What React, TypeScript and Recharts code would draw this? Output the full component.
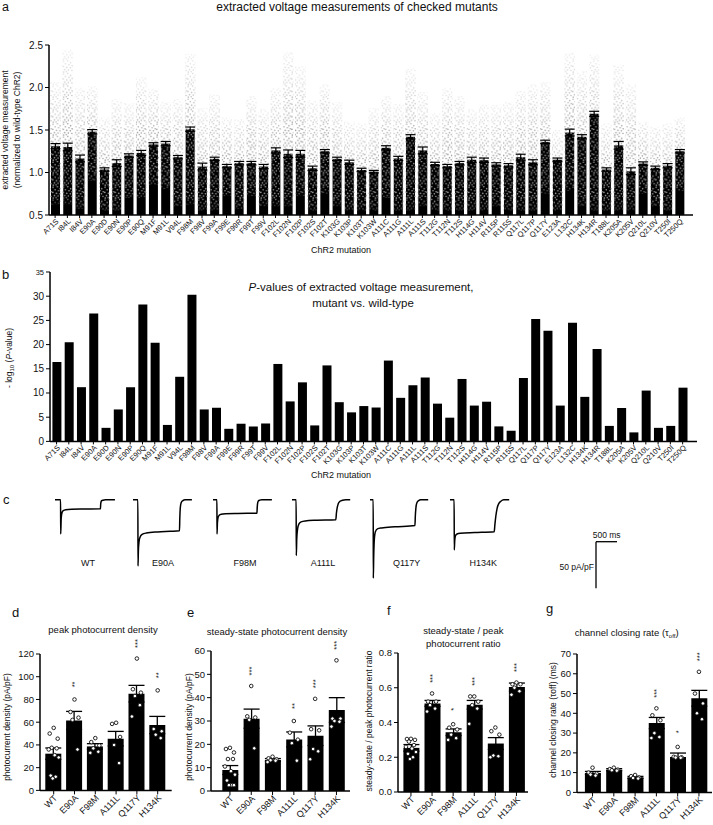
import React from "react";
import {
  ComposedChart,
  LineChart,
  Bar,
  Line,
  Scatter,
  XAxis,
  YAxis,
  ErrorBar,
} from "recharts";

const FONT = '"Liberation Sans", Arial, Helvetica, sans-serif';
const INK = "#111";

// ---------- panels a + b: screened mutants ----------
const MUTANTS = [
  "A71S", "I84L", "I84V", "E90A", "E90D", "E90N", "E90P", "E90Q", "M91F", "M91L",
  "V94L", "F98M", "F98V", "F99A", "F99E", "F99R", "F99T", "F99V", "F102L", "F102N",
  "F102P", "F102S", "F102T", "K103G", "K103P", "K103T", "K103W", "A111C", "A111G", "A111L",
  "A111S", "T112G", "T112N", "T112S", "H114G", "H114V", "R115P", "R115S", "Q117L", "Q117P",
  "Q117Y", "E123A", "L132C", "H134K", "H134R", "T188L", "K205A", "K205V", "Q210L", "Q210V",
  "T250I", "T250Q",
];
// mean normalized voltage (bar height)
const VOLT_MEAN = [
  1.31, 1.3, 1.165, 1.48, 1.035, 1.11, 1.2, 1.23, 1.33, 1.34,
  1.18, 1.51, 1.07, 1.16, 1.075, 1.11, 1.11, 1.07, 1.26, 1.22,
  1.22, 1.05, 1.25, 1.16, 1.12, 1.03, 1.01, 1.29, 1.165, 1.42,
  1.26, 1.1, 1.075, 1.11, 1.15, 1.145, 1.095, 1.085, 1.18, 1.12,
  1.36, 1.15, 1.47, 1.42, 1.69, 1.035, 1.32, 1.015, 1.105, 1.055,
  1.08, 1.25,
];
const VOLT_SEM = [
  0.03, 0.045, 0.04, 0.025, 0.02, 0.04, 0.02, 0.03, 0.02, 0.025,
  0.02, 0.025, 0.04, 0.02, 0.02, 0.02, 0.02, 0.025, 0.03, 0.045,
  0.04, 0.025, 0.02, 0.02, 0.025, 0.02, 0.015, 0.025, 0.025, 0.025,
  0.04, 0.02, 0.02, 0.02, 0.03, 0.025, 0.02, 0.02, 0.035, 0.03,
  0.02, 0.02, 0.04, 0.025, 0.03, 0.02, 0.045, 0.04, 0.02, 0.02,
  0.025, 0.02,
];
// spread of the single-cell measurements (grey dot cloud)
const CLOUD_LO = [
  0.62, 0.62, 0.57, 0.9, 0.55, 0.55, 0.7, 0.7, 0.85, 0.8,
  0.6, 0.62, 0.55, 0.55, 0.72, 0.57, 0.72, 0.6, 0.6, 0.6,
  0.72, 0.55, 0.75, 0.6, 0.55, 0.55, 0.55, 0.7, 0.55, 0.55,
  0.6, 0.55, 0.55, 0.55, 0.55, 0.55, 0.6, 0.55, 0.55, 0.55,
  0.75, 0.55, 0.78, 0.6, 0.55, 0.55, 0.55, 0.55, 0.75, 0.6,
  0.55, 0.78,
];
const CLOUD_HI = [
  2.07, 2.45, 2.0, 2.02, 1.65, 1.87, 1.82, 2.13, 1.99, 1.83,
  1.87, 2.4, 1.76, 1.92, 1.65, 1.63, 1.9, 1.75, 2.0, 2.42,
  2.25, 1.85, 2.04, 1.83, 1.6, 1.58, 1.76, 1.9, 1.81, 2.23,
  1.95, 1.7, 2.0, 1.9, 1.75, 1.8, 1.8, 1.83, 1.96, 2.04,
  2.07, 1.5, 2.41, 2.2, 2.39, 1.58, 2.27, 2.04, 1.6, 1.54,
  1.58, 1.65,
];
const VOLT_TICKS = [0.5, 1.0, 1.5, 2.0, 2.5];

// -log10(P) mutant vs WT
const NEG_LOG_P = [
  16.4, 20.5, 11.2, 26.4, 2.8, 6.6, 11.2, 28.3, 20.4, 3.4,
  13.35, 30.3, 6.6, 6.95, 2.6, 3.65, 3.1, 3.7, 16.0, 8.26,
  12.2, 3.3, 15.7, 8.1, 6.0, 7.3, 7.0, 16.7, 9.0, 11.6,
  13.2, 7.8, 4.9, 12.9, 7.4, 8.2, 3.1, 2.2, 13.1, 25.3,
  22.85, 7.4, 24.5, 9.2, 19.1, 3.2, 6.9, 1.86, 10.5, 2.8,
  3.2, 11.1,
];
const P_TICKS = [0, 5, 10, 15, 20, 25, 30, 35];

// ---------- panel c: example photocurrent traces (ms, pA/pF) ----------
const TRACE_NAMES = ["WT", "E90A", "F98M", "A111L", "Q117Y", "H134K"];
const TRACE_T = [
  [0, 135, 138, 150, 170, 200, 260, 400, 700, 1100, 1105, 1115, 1130, 1160, 1220, 1450],
  [0, 118, 121, 130, 145, 170, 220, 320, 600, 900, 1125, 1132, 1145, 1165, 1200, 1260, 1425],
  [0, 95, 97, 108, 125, 150, 200, 300, 600, 1063, 1070, 1082, 1100, 1130, 1180, 1425],
  [0, 100, 104, 115, 135, 165, 220, 320, 600, 1060, 1075, 1095, 1120, 1160, 1220, 1300, 1408],
  [0, 78, 80, 90, 105, 130, 180, 280, 600, 1087, 1097, 1112, 1135, 1170, 1230, 1408],
  [0, 100, 104, 115, 135, 170, 250, 600, 1070, 1085, 1110, 1140, 1180, 1230, 1300, 1432],
];
const TRACE_V = [
  [0, 0, -36.4, -20, -13.5, -11.5, -10.5, -10, -9.8, -9.6, -5, -2, -0.8, -0.3, 0, 0],
  [0, 0, -70.7, -55, -45, -40, -37, -35.5, -34.3, -33.6, -33, -20, -8, -3, -1, 0, 0],
  [0, 0, -36.4, -24, -18.5, -16.5, -15.3, -14.8, -14.5, -14.3, -8, -3, -1, -0.3, 0, 0],
  [0, 0, -59.6, -42, -31, -26, -23.5, -22.5, -21.8, -21.2, -14, -8, -4, -1.5, -0.5, 0, 0],
  [0, 0, -83.8, -60, -42, -34, -31, -30, -28.8, -27.5, -17, -8, -3, -1, 0, 0],
  [0, 0, -53.5, -43, -38, -36.5, -35.8, -35, -34, -27, -17, -9, -4, -1.5, 0, 0],
];

// ---------- panels d-g: selected mutants ----------
const GROUPS = ["WT", "E90A", "F98M", "A111L", "Q117Y", "H134K"];

const PEAK_MEAN = [32.3, 61.6, 38.7, 45.5, 85.1, 57.5];
const PEAK_SEM = [5.0, 7.9, 2.4, 6.4, 7.3, 7.6];
const PEAK_POINTS = [
  [55, 50, 45.5, 37.5, 37, 36, 31, 29, 13, 12, 10.5],
  [80, 69, 64, 62, 36],
  [46, 42.5, 39.5, 37, 34, 33],
  [59.5, 58.5, 47, 40, 24],
  [116, 89, 86, 83, 75, 65],
  [88, 54, 52, 49, 46],
];
const PEAK_SIG = ["", "**", "", "", "***", "**"];
const PEAK_TICKS = [0, 20, 40, 60, 80, 100, 120];

const STEADY_MEAN = [9.0, 31.0, 13.3, 22.1, 23.7, 34.7];
const STEADY_SEM = [1.9, 4.1, 0.6, 3.2, 4.2, 5.3];
const STEADY_POINTS = [
  [18.5, 18, 16.5, 13.7, 13.7, 10.5, 8.5, 7, 4.5, 2.5, 2.5, 2.5],
  [45, 32, 31.5, 30.5, 18.3],
  [14.7, 14, 13.6, 13.2, 13, 12.4],
  [30, 25, 22, 20.5, 13],
  [39.5, 26.5, 26, 18, 17, 13.6],
  [56, 31, 31, 30, 29.7, 27.6],
];
const STEADY_SIG = ["", "***", "", "**", "***", "***"];
const STEADY_TICKS = [0, 10, 20, 30, 40, 50, 60];

const RATIO_MEAN = [0.254, 0.51, 0.344, 0.502, 0.279, 0.604];
const RATIO_SEM = [0.019, 0.017, 0.019, 0.025, 0.034, 0.023];
const RATIO_POINTS = [
  [0.306, 0.305, 0.3, 0.29, 0.27, 0.26, 0.25, 0.23, 0.22, 0.2, 0.19],
  [0.567, 0.52, 0.52, 0.5, 0.48, 0.463],
  [0.39, 0.37, 0.36, 0.33, 0.31, 0.3],
  [0.55, 0.55, 0.52, 0.5, 0.48, 0.392],
  [0.371, 0.35, 0.33, 0.21, 0.206, 0.2],
  [0.63, 0.62, 0.62, 0.6, 0.58, 0.56],
];
const RATIO_SIG = ["", "***", "*", "***", "", "***"];
const RATIO_TICKS = [0, 0.2, 0.4, 0.6, 0.8];

const TAU_MEAN = [9.8, 11.5, 7.6, 35.1, 17.9, 47.6];
const TAU_SEM = [0.8, 0.5, 0.5, 2.8, 2.0, 4.0];
const TAU_POINTS = [
  [12.5, 10, 9.5, 9, 8.5],
  [12.5, 11.8, 11.5, 11.2, 11],
  [8.8, 8.2, 7.5, 7.3, 7.0],
  [42.5, 39, 36.5, 30, 28, 27.5],
  [23, 18, 17.7, 17.6, 17.5],
  [61, 50, 45, 40, 37],
];
const TAU_SIG = ["", "", "", "***", "*", "***"];
const TAU_TICKS = [0, 10, 20, 30, 40, 50, 60, 70];

// ---------- shared bits ----------
const axisLine = { stroke: "#000", strokeWidth: 1.5 };
const tickLine = { stroke: "#000", strokeWidth: 1 };

const RotTick = (props: any) => {
  const { x, y, payload, fs } = props;
  return (
    <g transform={`translate(${x + 2},${y})`}>
      <text
        transform="rotate(-45)"
        textAnchor="end"
        dy="0.35em"
        fontSize={fs}
        fontFamily={FONT}
        fill={INK}
      >
        {payload.value}
      </text>
    </g>
  );
};

const PTick = (props: any) => {
  const { x, y, payload } = props;
  const small = payload.value === 35;
  return (
    <text
      x={x}
      y={y}
      dy="0.35em"
      textAnchor="end"
      fontSize={small ? 7.5 : 10}
      fontFamily={FONT}
      fill={INK}
    >
      {payload.value}
    </text>
  );
};

const CloudShape = (p: any) => {
  if (!p.height || p.height <= 0) return <g />;
  return (
    <rect
      x={p.x}
      y={p.y}
      width={p.width}
      height={p.height}
      fill="url(#voltDots)"
      mask="url(#cloudFade)"
    />
  );
};

// irregular dot tile for the single-cell clouds
const CLOUD_TILE = [
  [1, 1.2], [5.4, 0.6], [8.2, 2.6], [3.1, 3.6], [6.6, 4.6],
  [0.8, 6.2], [4.4, 7.2], [7.9, 7.6], [2.4, 9.4], [6.0, 9.8],
  [9.4, 10.2], [1.2, 11.8], [4.0, 11.4], [9.6, 5.6],
];

// horizontal spread of single-cell points, px
const JIT = [0, -4, 4, -2, 3, -5, 1, 5, -3, 2, -1, 4];

const DotShape = (p: any) => {
  const dx = JIT[p.payload.k % JIT.length];
  return (
    <circle cx={p.cx + dx} cy={p.cy} r={1.8} fill="#fff" stroke={INK} strokeWidth={0.9} />
  );
};

const StarShape = (p: any) => (
  <text
    transform={`translate(${p.cx + 0.5},${p.cy - 15}) rotate(-90)`}
    textAnchor="middle"
    dominantBaseline="central"
    fontSize={7.5}
    fontFamily={FONT}
    fill={INK}
  >
    {p.payload.s}
  </text>
);

function VoltagePanel() {
  const rows = MUTANTS.map((name, i) => ({
    name,
    mean: VOLT_MEAN[i],
    sem: VOLT_SEM[i],
    cloud: [CLOUD_LO[i], CLOUD_HI[i]],
  }));
  const pad = { left: 0, right: 7.4 };
  return (
    <div style={{ position: "absolute", left: 0, top: 35 }}>
      <ComposedChart
        width={695}
        height={210}
        data={rows}
        margin={{ top: 10, right: 2, left: 0, bottom: 0 }}
      >
        <defs>
          <pattern id="voltDots" width={10.4} height={12.6} patternUnits="userSpaceOnUse">
            {CLOUD_TILE.map(([cx, cy], i) => (
              <circle key={i} cx={cx} cy={cy} r={0.8} fill="#9c9c9c" />
            ))}
          </pattern>
          <linearGradient id="fadeGrad" x1="0" y1="0" x2="0" y2="1">
            <stop offset="0" stopColor="#fff" stopOpacity={0.2} />
            <stop offset="0.3" stopColor="#fff" stopOpacity={0.65} />
            <stop offset="0.5" stopColor="#fff" stopOpacity={1} />
            <stop offset="0.92" stopColor="#fff" stopOpacity={1} />
            <stop offset="1" stopColor="#fff" stopOpacity={0.5} />
          </linearGradient>
          <mask id="cloudFade" maskContentUnits="objectBoundingBox">
            <rect x={0} y={0} width={1} height={1} fill="url(#fadeGrad)" />
          </mask>
        </defs>
        <XAxis
          xAxisId="main"
          dataKey="name"
          interval={0}
          tick={<RotTick fs={7.5} />}
          tickSize={3}
          height={30}
          axisLine={axisLine}
          tickLine={tickLine}
          padding={pad}
        />
        <XAxis xAxisId="cloud" dataKey="name" hide height={0} orientation="top" padding={pad} />
        <XAxis xAxisId="err" dataKey="name" hide height={0} orientation="top" padding={pad} />
        <YAxis
          width={49}
          domain={[0.5, 2.5]}
          ticks={VOLT_TICKS}
          tickFormatter={(v: number) => v.toFixed(1)}
          tickSize={4}
          tick={{ fontSize: 10, fill: INK, fontFamily: FONT }}
          axisLine={axisLine}
          tickLine={tickLine}
          allowDataOverflow
        />
        <Bar xAxisId="main" dataKey="mean" fill="#000" barSize={9} isAnimationActive={false} />
        <Bar
          xAxisId="cloud"
          dataKey="cloud"
          barSize={11}
          shape={CloudShape}
          isAnimationActive={false}
        />
        <Bar
          xAxisId="err"
          dataKey="mean"
          fill="none"
          barSize={9}
          isAnimationActive={false}
        >
          <ErrorBar dataKey="sem" width={5} stroke="#000" strokeWidth={1.2} direction="y" />
        </Bar>
      </ComposedChart>
    </div>
  );
}

function PValuePanel() {
  const rows = MUTANTS.map((name, i) => ({ name, p: NEG_LOG_P[i] }));
  return (
    <div style={{ position: "absolute", left: 0, top: 261.6 }}>
      <ComposedChart
        width={699}
        height={209.4}
        data={rows}
        margin={{ top: 10, right: 2, left: 0, bottom: 0 }}
      >
        <XAxis
          dataKey="name"
          interval={0}
          tick={<RotTick fs={7.5} />}
          tickSize={3}
          height={30}
          axisLine={axisLine}
          tickLine={tickLine}
          padding={{ left: 0.4, right: 8.2 }}
        />
        <YAxis
          width={50}
          domain={[0, 35]}
          ticks={P_TICKS}
          tickSize={4}
          tick={<PTick />}
          axisLine={axisLine}
          tickLine={tickLine}
        />
        <Bar dataKey="p" fill="#000" barSize={9} isAnimationActive={false} />
      </ComposedChart>
    </div>
  );
}

// same scale for all traces: 62 px = 1500 ms, 0.934 px per pA/pF
const TRACE_LEFT = [55, 132.7, 212.7, 291.7, 370, 450];

function Trace({ idx }: { idx: number }) {
  const data = TRACE_T[idx].map((t, i) => ({ t, v: TRACE_V[idx][i] }));
  return (
    <div style={{ position: "absolute", left: TRACE_LEFT[idx], top: 498.1 }}>
      <LineChart
        width={62}
        height={86}
        data={data}
        margin={{ top: 0, right: 0, left: 0, bottom: 0 }}
        style={{ overflow: "visible" }}
      >
        <XAxis type="number" dataKey="t" domain={[0, 1500]} hide />
        <YAxis domain={[-90, 2]} hide />
        <Line
          dataKey="v"
          type="monotone"
          stroke="#000"
          strokeWidth={1.5}
          dot={false}
          isAnimationActive={false}
        />
      </LineChart>
    </div>
  );
}

type SmallProps = {
  axisX: number;
  topY: number;
  bottomY: number;
  rightX: number;
  padL: number;
  padR: number;
  ticks: number[];
  fmt?: (v: number) => string;
  mean: number[];
  sem: number[];
  points: number[][];
  sig: string[];
};

function SmallBars(p: SmallProps) {
  const yw = 32;
  const mt = 28;
  const left = p.axisX - yw;
  const top = p.topY - mt;
  const width = p.rightX - left + 2;
  const height = mt + (p.bottomY - p.topY) + 34;
  const rows = GROUPS.map((name, i) => ({ name, mean: p.mean[i], sem: p.sem[i] }));
  const pts = p.points.flatMap((arr, i) => arr.map((v, k) => ({ x: i, y: v, k })));
  const stars = p.sig
    .map((s, i) => ({ x: i, y: Math.max(...p.points[i]), s }))
    .filter((d) => d.s);
  const pad = { left: p.padL, right: p.padR };
  const max = p.ticks[p.ticks.length - 1];
  return (
    <div style={{ position: "absolute", left, top }}>
      <ComposedChart
        width={width}
        height={height}
        data={rows}
        margin={{ top: mt, right: 2, left: 0, bottom: 0 }}
      >
        <XAxis
          xAxisId="cat"
          dataKey="name"
          interval={0}
          tick={<RotTick fs={9} />}
          tickSize={4}
          height={34}
          axisLine={axisLine}
          tickLine={tickLine}
          padding={pad}
        />
        <XAxis
          xAxisId="num"
          type="number"
          dataKey="x"
          domain={[-0.5, GROUPS.length - 0.5]}
          hide
          height={0}
          orientation="top"
          padding={pad}
        />
        <YAxis
          width={yw}
          domain={[0, max]}
          ticks={p.ticks}
          tickFormatter={p.fmt}
          tickSize={4}
          tick={{ fontSize: 9.5, fill: INK, fontFamily: FONT }}
          axisLine={axisLine}
          tickLine={tickLine}
        />
        <Bar xAxisId="cat" dataKey="mean" fill="#000" barSize={16} isAnimationActive={false}>
          <ErrorBar dataKey="sem" width={8} stroke="#000" strokeWidth={1.3} direction="y" />
        </Bar>
        <Scatter
          xAxisId="num"
          data={pts}
          dataKey="y"
          shape={DotShape}
          isAnimationActive={false}
        />
        <Scatter
          xAxisId="num"
          data={stars}
          dataKey="y"
          shape={StarShape}
          isAnimationActive={false}
        />
      </ComposedChart>
    </div>
  );
}

function Overlay() {
  const T = (props: any) => <text fontFamily={FONT} fill={INK} {...props} />;
  const traceLabelX = [88, 163, 245, 323, 406.7, 483.3];
  return (
    <svg
      width={713}
      height={825}
      style={{ position: "absolute", left: 0, top: 0, pointerEvents: "none" }}
    >
      {/* a */}
      <T x={2} y={11} fontSize={12.5}>a</T>
      <T x={357} y={11} fontSize={12} textAnchor="middle">
        extracted voltage measurements of checked mutants
      </T>
      <T transform="translate(8,130) rotate(-90)" fontSize={8.5} textAnchor="middle">
        extracted voltage measurement
      </T>
      <T transform="translate(19.5,130) rotate(-90)" fontSize={8.5} textAnchor="middle">
        (normalized to wild-type ChR2)
      </T>
      <T x={341} y={253} fontSize={9} textAnchor="middle">ChR2 mutation</T>

      {/* b */}
      <T x={2} y={279} fontSize={13}>b</T>
      <T x={361} y={291} fontSize={11.5} textAnchor="middle">
        <tspan fontStyle="italic">P</tspan>-values of extracted voltage measurement,
      </T>
      <T x={363} y={307} fontSize={11.5} textAnchor="middle">mutant vs. wild-type</T>
      <T transform="translate(11.5,358) rotate(-90)" fontSize={8.5} textAnchor="middle">
        - log<tspan fontSize={6} dy={2}>10</tspan>
        <tspan dy={-2}> (</tspan>
        <tspan fontStyle="italic">P</tspan>-value)
      </T>
      <T x={341} y={478} fontSize={9} textAnchor="middle">ChR2 mutation</T>

      {/* c */}
      <T x={3} y={504} fontSize={13}>c</T>
      {TRACE_NAMES.map((n, i) => (
        <T key={n} x={traceLabelX[i]} y={566} fontSize={9} textAnchor="middle">{n}</T>
      ))}
      <line x1={596} y1={541.7} x2={617} y2={541.7} stroke="#000" strokeWidth={1.3} />
      <line x1={596} y1={541.7} x2={596} y2={588.3} stroke="#000" strokeWidth={1.3} />
      <T x={606.7} y={537.5} fontSize={8.5} textAnchor="middle">500 ms</T>
      <T x={594} y={569.5} fontSize={8.5} textAnchor="end">50 pA/pF</T>

      {/* d-g */}
      <T x={12} y={617} fontSize={13}>d</T>
      <T x={103} y={633} fontSize={9.5} textAnchor="middle">peak photocurrent density</T>
      <T transform="translate(9.7,727) rotate(-90)" fontSize={8.5} textAnchor="middle">
        photocurrent density (pA/pF)
      </T>

      <T x={187} y={617} fontSize={13}>e</T>
      <T x={277} y={635} fontSize={9.5} textAnchor="middle">steady-state photocurrent density</T>
      <T transform="translate(191.5,727) rotate(-90)" fontSize={8.5} textAnchor="middle">
        photocurrent density (pA/pF)
      </T>

      <T x={387} y={615} fontSize={13}>f</T>
      <T x={463.3} y={634} fontSize={9.5} textAnchor="middle">steady-state / peak</T>
      <T x={463.3} y={646.5} fontSize={9.5} textAnchor="middle">photocurrent ratio</T>
      <T transform="translate(372,721) rotate(-90)" fontSize={8.5} textAnchor="middle">
        steady-state / peak photocurrent ratio
      </T>

      <T x={546} y={613} fontSize={13}>g</T>
      <T x={626.7} y={636} fontSize={9.5} textAnchor="middle">
        channel closing rate (τ<tspan fontSize={6} dy={1.5}>off</tspan>
        <tspan dy={-1.5}>)</tspan>
      </T>
      <T transform="translate(556,720) rotate(-90)" fontSize={8.5} textAnchor="middle">
        channel closing rate (τoff) (ms)
      </T>
    </svg>
  );
}

export default function App() {
  return (
    <div
      style={{
        position: "absolute",
        left: 0,
        top: 0,
        width: 713,
        height: 825,
        background: "#fff",
        overflow: "hidden",
        fontFamily: FONT,
      }}
    >
      <VoltagePanel />
      <PValuePanel />
      {TRACE_NAMES.map((n, i) => (
        <Trace key={n} idx={i} />
      ))}
      <SmallBars
        axisX={40}
        topY={654.3}
        bottomY={790.7}
        rightX={171.7}
        padL={3.3}
        padR={3.6}
        ticks={PEAK_TICKS}
        mean={PEAK_MEAN}
        sem={PEAK_SEM}
        points={PEAK_POINTS}
        sig={PEAK_SIG}
      />
      <SmallBars
        axisX={211}
        topY={651}
        bottomY={791}
        rightX={350}
        padL={8.3}
        padR={2.9}
        ticks={STEADY_TICKS}
        mean={STEADY_MEAN}
        sem={STEADY_SEM}
        points={STEADY_POINTS}
        sig={STEADY_SIG}
      />
      <SmallBars
        axisX={398.3}
        topY={653.3}
        bottomY={792.3}
        rightX={528.3}
        padL={2.4}
        padR={1}
        ticks={RATIO_TICKS}
        fmt={(v: number) => v.toFixed(1)}
        mean={RATIO_MEAN}
        sem={RATIO_SEM}
        points={RATIO_POINTS}
        sig={RATIO_SIG}
      />
      <SmallBars
        axisX={576.7}
        topY={654.3}
        bottomY={792.7}
        rightX={711.7}
        padL={4.9}
        padR={2.4}
        ticks={TAU_TICKS}
        mean={TAU_MEAN}
        sem={TAU_SEM}
        points={TAU_POINTS}
        sig={TAU_SIG}
      />
      <Overlay />
    </div>
  );
}
